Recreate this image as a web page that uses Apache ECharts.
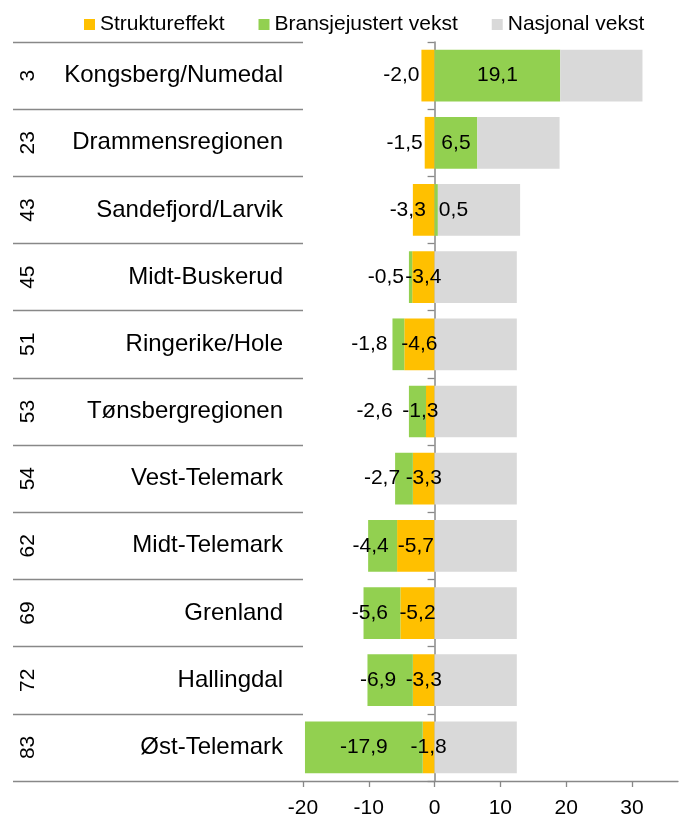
<!DOCTYPE html>
<html>
<head>
<meta charset="utf-8">
<script src="https://cdn.jsdelivr.net/npm/echarts@6/dist/echarts.min.js"></script>
<style>
html,body{margin:0;padding:0;background:#fff;}
#chart{width:681px;height:819px;}
</style>
</head>
<body>
<div id="chart"></div>
<script>
// ---- data ----
const ranks = ['3', '23', '43', '45', '51', '53', '54', '62', '69', '72', '83'];
const regions = ['Kongsberg/Numedal', 'Drammensregionen', 'Sandefjord/Larvik', 'Midt-Buskerud',
  'Ringerike/Hole', 'Tønsbergregionen', 'Vest-Telemark', 'Midt-Telemark', 'Grenland',
  'Hallingdal', 'Øst-Telemark'];
const struktureffekt = [-2.0, -1.5, -3.3, -3.4, -4.6, -1.3, -3.3, -5.7, -5.2, -3.3, -1.8];
const bransjejustert = [19.1, 6.5, 0.5, -0.5, -1.8, -2.6, -2.7, -4.4, -5.6, -6.9, -17.9];
const nasjonal = [12.5, 12.5, 12.5, 12.5, 12.5, 12.5, 12.5, 12.5, 12.5, 12.5, 12.5];
const seriesNames = ['Struktureffekt', 'Bransjejustert vekst', 'Nasjonal vekst'];
const xTicks = [-20, -10, 0, 10, 20, 30];

// ---- styles ----
const FONT = "'Liberation Sans', Arial, sans-serif";
const colors = ['#FFC000', '#92D050', '#D9D9D9'];
const axisGray = '#888888';
const fmt = v => v.toFixed(1).replace('.', ',');

const baseLabel = {
  show: true, color: '#000', fontSize: 21, fontFamily: FONT,
  textBorderWidth: 0, formatter: p => fmt(p.value)
};

function strukturItem(v, i) {
  const other = bransjejustert[i];
  let lab;
  if (v < 0 && other >= 0 && Math.abs(v) < 2.5) lab = { position: 'left', distance: 2 };
  else if (v < 0 && other >= 0 && Math.abs(v) < 4) lab = { position: 'inside', offset: [-16, 0] };
  else if (v < 0 && other < 0 && Math.abs(v) < 1.5) lab = { position: 'inside', offset: [-10, 0] };
  else lab = { position: 'inside' };
  return { value: v, label: Object.assign({}, baseLabel, lab) };
}
function bransjeItem(v, i) {
  const orangeSmall = Math.abs(struktureffekt[i]) < 1.5;
  let lab;
  if (v > 0 && v < 2) lab = { position: 'right', distance: 1 };
  else if (v < 0 && Math.abs(v) < 2) lab = { position: 'left', distance: 5 };
  else if (v < 0 && Math.abs(v) < 3) lab = { position: 'inside', offset: [orangeSmall ? -43 : -22, 0] };
  else if (v < 0 && Math.abs(v) < 10) lab = { position: 'inside', offset: [-12, 0] };
  else lab = { position: 'inside' };
  return { value: v, label: Object.assign({}, baseLabel, lab) };
}

const chart = echarts.init(document.getElementById('chart'), null, { renderer: 'canvas' });
chart.setOption({
  animation: false,
  backgroundColor: '#fff',
  textStyle: { fontFamily: FONT },
  legend: {
    top: 14, left: 84, padding: 0,
    itemWidth: 11, itemHeight: 11, itemGap: 34,
    icon: 'rect',
    textStyle: { fontSize: 21, color: '#000', fontFamily: FONT },
    data: seriesNames
  },
  grid: { left: 303, right: 3, top: 42, bottom: 35, containLabel: false },
  xAxis: {
    type: 'value', min: -20, max: 37, interval: 10,
    position: 'bottom',
    axisLine: { show: true, onZero: false, lineStyle: { color: axisGray, width: 1.3 } },
    axisTick: { show: true, length: 6, customValues: xTicks, lineStyle: { color: axisGray, width: 1.3 } },
    axisLabel: { customValues: xTicks, fontSize: 21, color: '#000', margin: 17, fontFamily: FONT },
    splitLine: { show: false }
  },
  yAxis: [
    {
      type: 'category', data: regions, inverse: true, position: 'left',
      axisLine: { show: false, onZero: false },
      axisTick: { show: true, length: 290, lineStyle: { color: axisGray, width: 1.3 } },
      axisLabel: { fontSize: 24, color: '#000', margin: 20, fontFamily: FONT }
    },
    {
      type: 'category', data: ranks, inverse: true, position: 'left',
      axisLine: { show: false, onZero: false },
      axisTick: { show: false },
      axisLabel: { fontSize: 21, color: '#000', rotate: 90, margin: 264, fontFamily: FONT }
    },
    {
      type: 'category', data: regions, inverse: true, position: 'left',
      axisLine: { show: true, onZero: true, lineStyle: { color: axisGray, width: 1.5 } },
      axisTick: { show: true, length: 7, lineStyle: { color: axisGray, width: 1.3 } },
      axisLabel: { show: false }
    }
  ],
  series: [
    {
      name: seriesNames[0], type: 'bar', stack: 'tot', yAxisIndex: 0,
      barCategoryGap: '23%', itemStyle: { color: colors[0] },
      data: struktureffekt.map(strukturItem)
    },
    {
      name: seriesNames[1], type: 'bar', stack: 'tot', yAxisIndex: 0,
      barCategoryGap: '23%', itemStyle: { color: colors[1] },
      data: bransjejustert.map(bransjeItem)
    },
    {
      name: seriesNames[2], type: 'bar', stack: 'tot', yAxisIndex: 0,
      barCategoryGap: '23%', itemStyle: { color: colors[2] },
      label: { show: false },
      data: nasjonal
    }
  ]
});
</script>
</body>
</html>
